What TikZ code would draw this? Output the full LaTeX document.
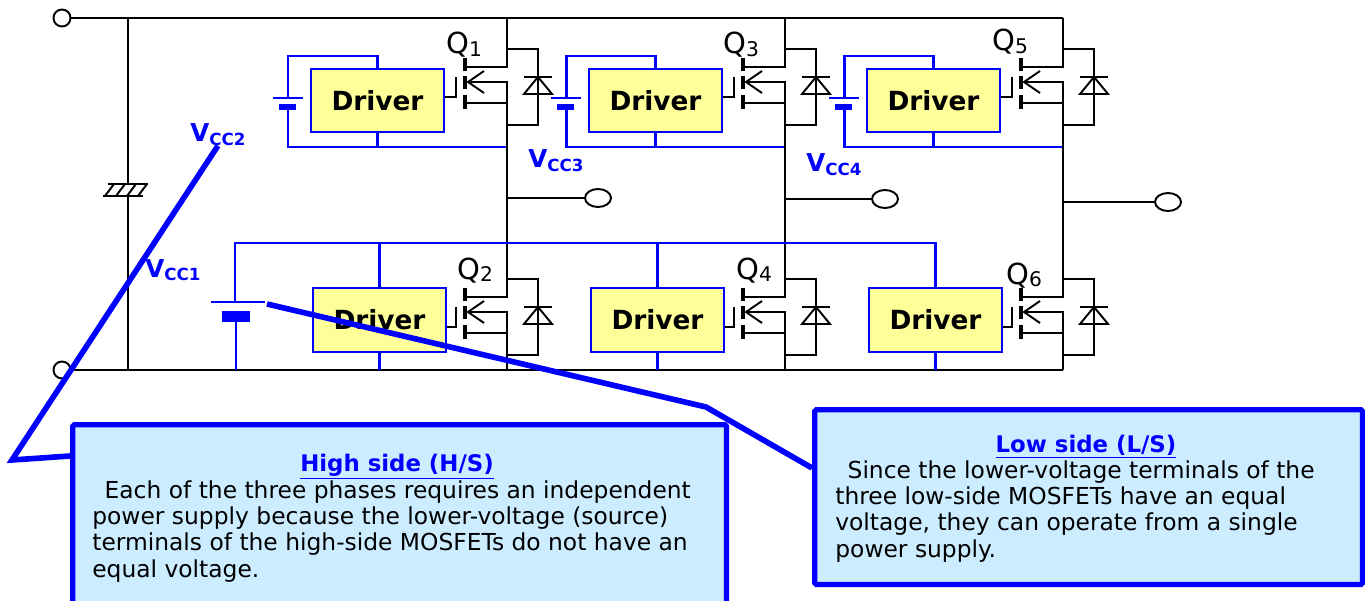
\documentclass[tikz,border=0pt]{standalone}
\usepackage{fontspec}
\setmainfont{DejaVu Sans}
\usetikzlibrary{shapes.geometric}
\definecolor{wireblue}{RGB}{0,0,255}
\definecolor{drvyellow}{RGB}{255,255,153}
\definecolor{notecyan}{RGB}{204,236,255}
\tikzset{
  wire/.style={line width=1.1pt},
  bwire/.style={draw=wireblue,line width=1.7pt},
  gatebar/.style={line width=2.4pt},
  drvbox/.style={draw=wireblue,line width=1.3pt,fill=drvyellow,minimum width=2.66cm,
    minimum height=1.27cm,inner sep=0pt,font=\fontsize{15}{16}\selectfont\bfseries},
  callout/.style={draw=wireblue,line width=3.2pt},
  notebox/.style={draw=wireblue,line width=3pt,fill=notecyan,rounded corners=1pt,
    anchor=north west,inner sep=0pt},
  term/.style={draw,wire,fill=white,inner sep=0pt}
}
\newcommand{\vcclab}[1]{\fontsize{14}{14}\selectfont\bfseries V\raisebox{-1.8pt}{\fontsize{9.5}{9.5}\selectfont CC#1}}
\newcommand{\qlab}[1]{\fontsize{16.5}{16.5}\selectfont Q\raisebox{-1.5pt}{\fontsize{11.5}{11.5}\selectfont #1}}
\begin{document}
\begin{tikzpicture}[x=0.02cm,y=-0.02cm]
  \useasboundingbox (0,0) rectangle (1365,601);
  \clip (0,0) rectangle (1365,601);

  % DC link and smoothing capacitor
  \node[term,circle,minimum size=0.34cm] (vpos) at (62,18) {};
  \node[term,circle,minimum size=0.34cm] (vneg) at (62,370) {};
  \draw[wire] (vpos.east) -- (1063,18);
  \draw[wire] (vneg.east) -- (1063,370);
  \draw[wire] (128,18) -- (128,184);
  \draw[wire] (128,196) -- (128,370);
  \draw[wire] (108,184) -- (148,184) (103,196) -- (143,196);
  \foreach \s in {0,11,22,33}{
    \draw[wire] ({105+\s},196) -- ({114+\s},184);
  }

  % three phases
  \foreach \i in {0,1,2}{
    \begin{scope}[shift={(\i*278,0)}]
      \node[drvbox] (hdrv\i) at (377.5,100.5) {Driver};
      \node[drvbox] (ldrv\i) at (379.5,320) {Driver};
      % high-side supply
      \draw[bwire] (hdrv\i.north) -- (377.5,56) -- (288,56) -- (288,98);
      \draw[bwire] (288,110) -- (288,147) -- (507,147);
      \draw[bwire] (hdrv\i.south) -- (377.5,147);
      \draw[wireblue,line width=1.3pt] (273,98) -- (303,98);
      \fill[wireblue] (279,104) rectangle (296,110);
      % switches
      \draw[wire] (507,18) -- (507,67) -- (465,67);
      \draw[wire] (468,82) -- (507,82) -- (507,297) -- (465,297);
      \draw[wire] (468,312) -- (507,312) -- (507,370);
      \foreach \y/\drv in {0/hdrv,230/ldrv}{
        \draw[wire] (484,{71+\y}) -- (468,{82+\y}) -- (484,{93+\y});
        \draw[wire] (465,{103+\y}) -- (507,{103+\y});
        \draw[wire] (507,{49+\y}) -- (538,{49+\y}) -- (538,{125+\y}) -- (507,{125+\y});
        \draw[wire] (524,{94+\y}) -- (552,{94+\y}) -- (538,{77+\y}) -- cycle;
        \draw[wire] (524,{77+\y}) -- (552,{77+\y});
        \draw[gatebar] (465,{58+\y}) -- (465,{71+\y}) (465,{76+\y}) -- (465,{89+\y})
          (465,{95+\y}) -- (465,{109+\y});
        \coordinate (g\drv\i) at (456,{97+\y});
        \draw[wire] (456,{77+\y}) -- (g\drv\i) -- (g\drv\i -| \drv\i.east);
      }
    \end{scope}
  }

  % low-side common supply
  \coordinate (bus) at (0,243);
  \draw[bwire] (235,302) -- (235,243) -- (ldrv2.north |- bus) -- (ldrv2.north);
  \foreach \i in {0,1}{
    \draw[bwire] (ldrv\i.north |- bus) -- (ldrv\i.north);
  }
  \foreach \i in {0,1,2}{
    \draw[bwire] (ldrv\i.south) -- (ldrv\i.south |- vneg);
  }
  \draw[wireblue,line width=1.7pt] (211,302) -- (265,302);
  \fill[wireblue] (222,311) rectangle (250,322);
  \draw[bwire] (236,322) -- (236,370);

  % outputs
  \foreach \i/\ox/\oy in {0/598/198,1/885/199,2/1168/202}{
    \node[term,ellipse,minimum width=0.52cm,minimum height=0.36cm] (out\i) at (\ox,\oy) {};
    \draw[wire] ({507+\i*278},\oy) -- (out\i.west);
  }

  % labels
  \foreach \n/\qx/\qy in {1/446/54,3/723/54,5/992/51,2/457/279,4/736/279,6/1006/284}{
    \node[anchor=base west,inner sep=0pt] (q\n) at (\qx,\qy) {\qlab{\n}};
  }
  \node[anchor=base west,inner sep=0pt,text=wireblue] (vcc2) at (190,142) {\vcclab{2}};
  \node[anchor=base west,inner sep=0pt,text=wireblue] (vcc3) at (528,168) {\vcclab{3}};
  \node[anchor=base west,inner sep=0pt,text=wireblue] (vcc4) at (806,172) {\vcclab{4}};
  \node[anchor=base west,inner sep=0pt,text=wireblue] (vcc1) at (145,277) {\vcclab{1}};

  % notes
  \node[notebox,minimum width=13.08cm,minimum height=4.2cm] (hsnote) at (70,422) {};
  \node[notebox,minimum width=10.96cm,minimum height=3.5cm] (lsnote) at (812,407) {};
  \node[anchor=base,inner sep=0pt,text=wireblue,font=\fontsize{13}{15}\selectfont\bfseries]
    (hstitle) at (397,471) {\underline{High side (H/S)}};
  \node[anchor=north west,inner sep=0pt,align=left,font=\fontsize{13.3}{15}\selectfont]
    (hsbody) at (92,480) {\hspace*{7pt}Each of the three phases requires an independent\\
    power supply because the lower-voltage (source)\\
    terminals of the high-side MOSFETs do not have an\\
    equal voltage.};
  \node[anchor=base,inner sep=0pt,text=wireblue,font=\fontsize{13}{15}\selectfont\bfseries]
    (lstitle) at (1086,452) {\underline{Low side (L/S)}};
  \node[anchor=north west,inner sep=0pt,align=left,font=\fontsize{13.3}{15}\selectfont]
    (lsbody) at (835,460) {\hspace*{7pt}Since the lower-voltage terminals of the\\
    three low-side MOSFETs have an equal\\
    voltage, they can operate from a single\\
    power supply.};

  % callouts
  \draw[callout] (vcc2.south) -- (12,460) -- (hsnote.west |- 0,456);
  \draw[callout] (267,304) -- (706,407) -- (lsnote.west |- 0,468);
\end{tikzpicture}
\end{document}
